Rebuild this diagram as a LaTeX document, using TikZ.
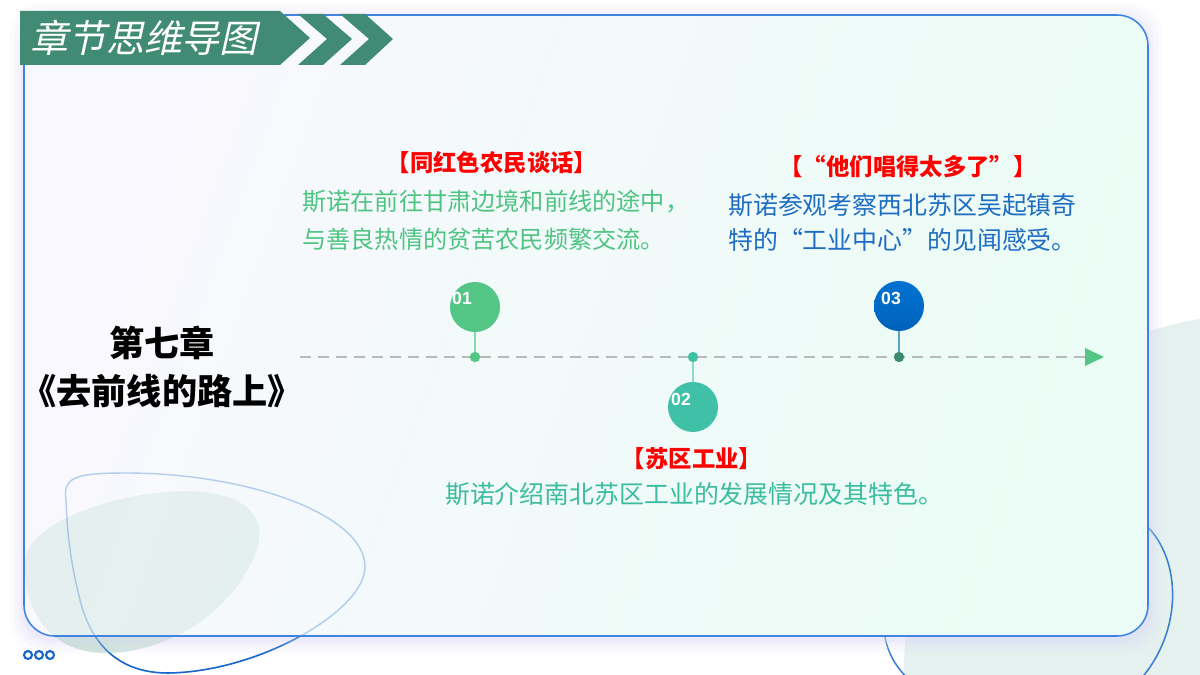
\documentclass[tikz,border=0pt]{standalone}
\usepackage{fontspec}
\newfontfamily\cjk{Noto Sans CJK SC}
\newfontfamily\cjkslant[FakeSlant=0.22]{Noto Sans CJK SC}
\setsansfont{Liberation Sans}
\usetikzlibrary{positioning}

\definecolor{bannergreen}{HTML}{418B75}
\definecolor{headred}{HTML}{FF0000}
\definecolor{txtgreen}{HTML}{4FC482}
\definecolor{txtblue}{HTML}{1F6DC2}
\definecolor{txtteal}{HTML}{3CBCA0}
\definecolor{pinkgreen}{HTML}{53C686}
\definecolor{pinteal}{HTML}{40C0A6}
\definecolor{pinblue}{HTML}{0072D2}
\definecolor{pinbluedark}{HTML}{0062BC}
\definecolor{darkdot}{HTML}{3E8A70}
\definecolor{lineGray}{HTML}{B9B9B9}
\definecolor{panelleft}{HTML}{F9F8FE}
\definecolor{panelright}{HTML}{EAFCF5}
\definecolor{panelborder}{HTML}{3F84E0}
\definecolor{blobgreen}{HTML}{BFDDCF}
\definecolor{blobpale}{HTML}{F1F4F8}
\definecolor{bigteal}{HTML}{E4F1EE}
\definecolor{outlineblue}{HTML}{1767CB}
\definecolor{shadowlilac}{HTML}{DCD8F8}

\begin{document}
\begin{tikzpicture}[x=0.025cm, y=-0.025cm,
        heading/.style={
            text=headred,
            inner sep=0pt,
            font=\cjk\bfseries\fontsize{16.6}{20}\selectfont
        },
        body/.style={
            inner sep=0pt,
            align=left,
            font=\cjk\fontsize{17.2}{27}\selectfont
        },
        chapter/.style={
            inner sep=0pt,
            font=\cjk\bfseries\fontsize{25}{28}\selectfont
        },
        bubble/.style={circle, minimum size=1.25cm, inner sep=0pt},
        timedot/.style={circle, minimum size=0.26cm, inner sep=0pt},
        num/.style={text=white, inner sep=0pt, font=\sffamily\bfseries\fontsize{12.5}{12.5}\selectfont},
        stem/.style={line width=1.1pt}
    ]
    \useasboundingbox (0,0) rectangle (1200,675);
    \fill[white] (0,0) rectangle (1200,675);

    % decorations behind the panel
    \fill[bigteal] (1260,670) circle [radius=8.9cm];
    \shade[left color=blobgreen, right color=blobpale, shading angle=60]
        (25,560) .. controls (30,520) and (120,492) .. (185,491)
        .. controls (250,492) and (275,520) .. (250,565)
        .. controls (225,615) and (170,650) .. (110,653)
        .. controls (50,655) and (22,610) .. (25,560) -- cycle;
    \draw[outlineblue, line width=1.1pt]
        (66,500) .. controls (62,475) and (80,473) .. (130,473)
        .. controls (250,474) and (365,515) .. (365,567)
        .. controls (365,610) and (260,672) .. (168,673)
        .. controls (115,673) and (90,640) .. (80,600)
        .. controls (70,560) and (67,530) .. (66,500) -- cycle;
    \draw[outlineblue!85, line width=1.1pt]
        (1140,520) .. controls (1185,555) and (1185,640) .. (1130,690)
        .. controls (1050,740) and (900,720) .. (885,637)
        .. controls (870,560) and (1060,470) .. (1140,520);

    % panel
    \foreach \s/\o in {14/0.10, 10/0.12, 6/0.16, 3/0.22}
        \fill[shadowlilac, opacity=\o, even odd rule, rounded corners=22pt]
            (24-\s,15-\s+3) rectangle (1148+\s,636+\s+3)
            (24,15) rectangle (1148,636);
    \shade[left color=panelleft, right color=panelright, shading angle=70, rounded corners=22pt]
        (24,15) rectangle (1148,636);
    \fill[blobgreen, opacity=0.3]
        (25,560) .. controls (30,520) and (120,492) .. (185,491)
        .. controls (250,492) and (275,520) .. (250,565)
        .. controls (225,615) and (170,650) .. (110,653)
        .. controls (50,655) and (22,610) .. (25,560) -- cycle;
    \draw[outlineblue, line width=1pt, opacity=0.3]
        (66,500) .. controls (62,475) and (80,473) .. (130,473)
        .. controls (250,474) and (365,515) .. (365,567)
        .. controls (365,610) and (260,672) .. (168,673)
        .. controls (115,673) and (90,640) .. (80,600)
        .. controls (70,560) and (67,530) .. (66,500) -- cycle;
    \draw[panelborder, line width=1.1pt, rounded corners=22pt]
        (24,15) rectangle (1148,636);

    % banner
    \fill[bannergreen] (20,11) -- (280,11) -- (310,38) -- (280,65) -- (20,65) -- cycle;
    \fill[bannergreen] (298,14) -- (323,14) -- (352,39) -- (323,65) -- (298,65) -- (327,39) -- cycle;
    \fill[bannergreen] (340,14) -- (365,14) -- (393,39) -- (365,65) -- (340,65) -- (369,39) -- cycle;
    \node[text=white, inner sep=0pt, font=\cjkslant\fontsize{27}{27}\selectfont]
        (title) at (144,38) {章节思维导图};

    % chapter
    \node[chapter] (chap) at (162,343) {第七章};
    \node[chapter] (book) at (162,391) {《去前线的路上》};

    % timeline
    \coordinate (start) at (300,357);
    \coordinate (tip) at (1085,357);
    \draw[lineGray, line width=2.1pt, dash pattern=on 7.8pt off 5pt] (start) -- (tip);
    \fill[pinkgreen] (tip) ++(0,-9) -- ++(19,9) -- ++(-19,9) -- cycle;

    \node[timedot, fill=pinkgreen] (d1) at (475,357) {};
    \node[timedot, fill=pinteal] (d2) at (693,357) {};
    \node[timedot, fill=darkdot] (d3) at (899,357) {};

    \node[bubble, fill=pinkgreen] (c1) at (475,307) {};
    \node[bubble, fill=pinteal] (c2) at (693,407) {};
    \node[bubble, top color=pinblue, bottom color=pinbluedark] (c3) at (899,306) {};

    \draw[stem, pinkgreen!70] (c1.south) -- (d1);
    \draw[stem, pinteal!60] (d2) -- (c2.north);
    \draw[stem, darkdot!40!pinblue!70] (c3.south) -- (d3);

    \node[num] (n1) at (462,298) {01};
    \node[num] (n2) at (681,399) {02};
    \node[num] (n3) at (891,298) {03};

    % texts
    \node[heading] (h1) at (492,163) {【同红色农民谈话】};
    \node[body, text=txtgreen, anchor=north west] (t1) at (302,190)
        {斯诺在前往甘肃边境和前线的途中，\\与善良热情的贫苦农民频繁交流。};

    \node[heading] (h3) at (908,167) {【“他们唱得太多了”】};
    \node[body, text=txtblue, anchor=north west, font=\cjk\fontsize{17.7}{25}\selectfont] (t3) at (728,193)
        {斯诺参观考察西北苏区吴起镇奇\\特的“工业中心”的见闻感受。};

    \node[heading] (h2) at (692,459) {【苏区工业】};
    \node[body, text=txtteal, font=\cjk\fontsize{17.7}{27}\selectfont] (t2) at (694,494)
        {斯诺介绍南北苏区工业的发展情况及其特色。};

    % dots at the corner
    \foreach \x in {28,39,50}
        \draw[outlineblue, line width=1.5pt] (\x,655) circle [radius=0.1cm];
\end{tikzpicture}
\end{document}
